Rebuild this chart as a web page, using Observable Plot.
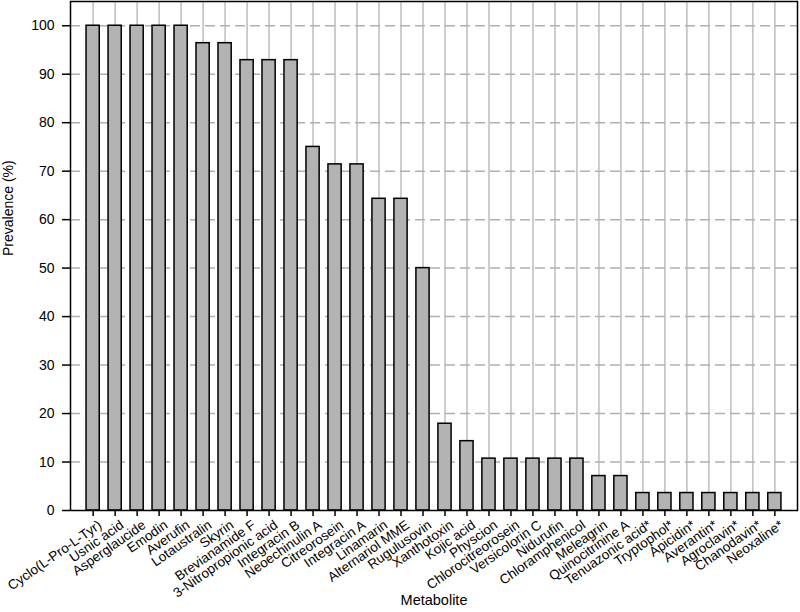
<!DOCTYPE html>
<html>
<head>
<meta charset="utf-8">
<script src="https://cdn.jsdelivr.net/npm/d3@7"></script>
<script src="https://cdn.jsdelivr.net/npm/@observablehq/plot@0.6"></script>
<style>
  html, body { margin: 0; padding: 0; background: white; }
</style>
</head>
<body>
<div id="chart"></div>
<script>
const metabolites = [
  "Cyclo(L-Pro-L-Tyr)", "Usnic acid", "Asperglaucide", "Emodin", "Averufin",
  "Lotaustralin", "Skyrin", "Brevianamide F", "3-Nitropropionic acid", "Integracin B",
  "Neoechinulin A", "Citreorosein", "Integracin A", "Linamarin", "Alternariol MME",
  "Rugulusovin", "Xanthotoxin", "Kojic acid", "Physcion", "Chlorocitreorosein",
  "Versicolorin C", "Nidurufin", "Chloramphenicol", "Meleagrin", "Quinocitrinine A",
  "Tenuazonic acid*", "Tryptophol*", "Apicidin*", "Averantin*", "Agroclavin*",
  "Chanodavin*", "Neoxaline*"
];
const prevalence = [
  100, 100, 100, 100, 100,
  96.4, 96.4, 92.9, 92.9, 92.9,
  75.0, 71.4, 71.4, 64.3, 64.3,
  50.0, 17.9, 14.3, 10.7, 10.7,
  10.7, 10.7, 10.7, 7.1, 7.1,
  3.6, 3.6, 3.6, 3.6, 3.6,
  3.6, 3.6
];
const yTicks = [0, 10, 20, 30, 40, 50, 60, 70, 80, 90, 100];
const xTitle = "Metabolite";
const yTitle = "Prevalence (%)";

const data = metabolites.map((m, i) => ({metabolite: m, prevalence: prevalence[i]}));

const chart = Plot.plot({
  width: 800,
  height: 612,
  marginLeft: 70,
  marginRight: 3,
  marginTop: 1,
  marginBottom: 102,
  style: {fontFamily: "'Liberation Sans', Arial, sans-serif", fontSize: "13px", background: "white", color: "black"},
  x: {domain: metabolites, paddingInner: 0.4, paddingOuter: 0.73, label: null},
  y: {domain: [0, 105], label: null},
  marks: [
    Plot.ruleX(metabolites, {x: d => d, stroke: "#bdbdbd", strokeWidth: 1.5}),
    Plot.ruleY(yTicks.filter(d => d > 0), {y: d => d, stroke: "#b0b0b0", strokeWidth: 1.5, strokeDasharray: "10,5"}),
    Plot.barY(data, {x: "metabolite", y: "prevalence", fill: "#b3b3b3", stroke: "black", strokeWidth: 1.5}),
    Plot.frame({stroke: "black", strokeWidth: 1.5}),
    Plot.axisY({ticks: yTicks, tickSize: 8, tickPadding: 8, fontSize: 14, label: null, strokeWidth: 1.5}),
    Plot.axisX({tickSize: 6, tickFormat: () => "", label: null, strokeWidth: 1.5}),
    Plot.axisX({tickSize: 0, tickPadding: 8, tickRotate: -35, fontSize: 13.5, dx: 7, dy: 5, label: null}),
    Plot.text([xTitle], {frameAnchor: "bottom", dy: 94, fontSize: 14.5}),
    Plot.text([yTitle], {frameAnchor: "left", dx: -62, rotate: -90, fontSize: 14})
  ]
});
document.getElementById("chart").appendChild(chart);
</script>
</body>
</html>
